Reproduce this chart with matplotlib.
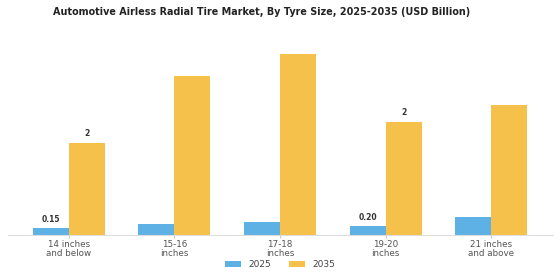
import numpy as np
import matplotlib.pyplot as plt

categories = ["14 inches\nand below", "15-16\ninches", "17-18\ninches", "19-20\ninches", "21 inches\nand above"]
values_2025 = [0.15, 0.25, 0.30, 0.20, 0.40]
values_2035 = [2.03, 3.49, 3.99, 2.49, 2.86]
labels_2025 = ["0.15", None, None, "0.20", None]
labels_2035 = ["2", None, None, "2", None]


def main():
    fig = plt.figure(figsize=(5.6, 2.8), dpi=100)
    ax = fig.add_axes([0.015, 0.16, 0.972, 0.715])

    x = np.arange(len(categories))
    w = 0.34
    b1 = ax.bar(x - w / 2, values_2025, w, color="#5DB1E4", label="2025")
    b2 = ax.bar(x + w / 2, values_2035, w, color="#F6C14B", label="2035")

    for bars, labs in ((b1, labels_2025), (b2, labels_2035)):
        for bar, lab in zip(bars, labs):
            if lab is None:
                continue
            ax.text(bar.get_x() + bar.get_width() / 2, bar.get_height() + 0.1, lab,
                    ha="center", va="bottom", fontsize=5.5, fontweight="bold", color="#333333")

    ax.set_xlim(-0.57, 4.58)
    ax.set_ylim(0, 4.4)
    ax.set_xticks(x)
    ax.set_xticklabels(categories, fontsize=6.3, color="#555555", linespacing=1.0)
    ax.tick_params(axis="x", length=2, color="#cccccc", pad=1.5)
    ax.set_yticks([])
    for side in ("top", "right", "left"):
        ax.spines[side].set_visible(False)
    ax.spines["bottom"].set_color("#dddddd")

    fig.suptitle("Automotive Airless Radial Tire Market, By Tyre Size, 2025-2035 (USD Billion)",
                 fontsize=6.9, fontweight="bold", color="#222222", x=0.467, y=0.975)
    fig.legend(loc="lower center", ncol=2, frameon=False, fontsize=6.5,
               bbox_to_anchor=(0.5, 0.01), handlelength=1.8, handleheight=0.6,
               columnspacing=2.0, labelcolor="#444444")

    fig.savefig("out.png", dpi=100, facecolor="white")


if __name__ == "__main__":
    main()
